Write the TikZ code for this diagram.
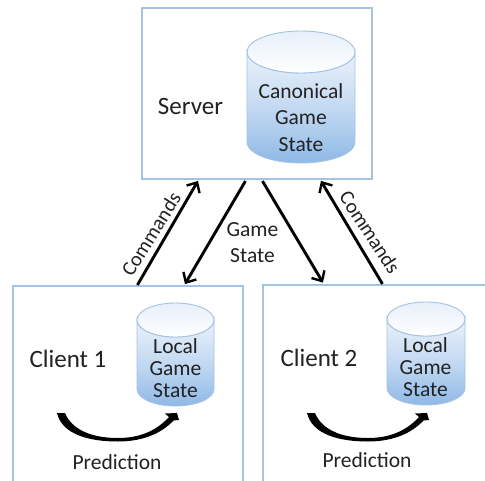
\documentclass[tikz,border=0pt]{standalone}
\usepackage{fontspec}
\setmainfont{Carlito}
\usetikzlibrary{arrows.meta,calc,shadings}
\definecolor{edgeblue}{HTML}{A6C2E2}
\definecolor{dbtop}{HTML}{DCE9F7}
\definecolor{dbmid}{HTML}{C3D9F2}
\definecolor{dbbot}{HTML}{8FB9E6}
\definecolor{ink}{HTML}{222222}
\tikzset{
  panel/.style={draw=edgeblue,line width=1.1pt,fill=white,rectangle,inner sep=0pt},
  link/.style={draw=black,line width=2.9pt,-{Straight Barb[length=8pt,width=15pt,line width=2.4pt]},shorten >=1pt},
  lbl/.style={text=ink,font=\fontsize{21.5}{25}\selectfont,align=center,inner sep=0pt},
  cmdlbl/.style={text=ink,font=\fontsize{20.5}{24}\selectfont,inner sep=0pt},
  biglbl/.style={text=ink,font=\fontsize{25}{30}\selectfont,inner sep=0pt},
}
% #1 name, #2 left, #3 right, #4 top, #5 ry, #6 bottom
\newcommand{\dbcyl}[6]{%
  \pgfmathsetmacro{\cx}{(#2+#3)/2}\pgfmathsetmacro{\rx}{(#3-#2)/2}\pgfmathsetmacro{\cy}{#4+#5}
  \path[draw=edgeblue,line width=.9pt,top color=dbtop!60!white,bottom color=dbbot,middle color=dbmid]
    (#2,\cy) -- (#2,#6-#5) arc[start angle=180,end angle=0,x radius=\rx,y radius=#5] -- (#3,\cy)
    arc[start angle=0,end angle=180,x radius=\rx,y radius=#5] -- cycle;
  \path[draw=edgeblue,line width=.9pt,top color=dbtop!70!white,bottom color=white]
    (\cx,\cy) ellipse[x radius=\rx,y radius=#5];
  \coordinate (#1) at (\cx,\cy);
}
% tapered prediction arrow, #1 = x offset, #2 = y offset
\newcommand{\predarrow}[2]{%
  \fill[black,shift={(#1,#2)}] (57,413) -- (65,413)
    .. controls (72,430) and (92,438) .. (118,438)
    .. controls (141,438) and (157,430) .. (169,417)
    -- (165,413.5) -- (177,413) -- (179,420) -- (173.5,420.5)
    .. controls (160,435) and (140,441.5) .. (118,441.5)
    .. controls (88,441.5) and (62,434) .. (57,413) -- cycle;
}
\begin{document}
\begin{tikzpicture}[x=1pt,y=-1pt]
\useasboundingbox (0,0) rectangle (485,480);
\clip (0,0) rectangle (485,480);
\fill[white] (0,0) rectangle (485,480);
\node[panel,minimum width=230pt,minimum height=171pt] (server) at (257,93.5) {};
\node[panel,minimum width=230pt,minimum height=220pt] (clienta) at (128,396) {};
\node[panel,minimum width=240pt,minimum height=220pt] (clientb) at (383,395) {};

\dbcyl{dbs}{247}{355}{31}{21}{163}
\dbcyl{dba}{137}{214}{303}{17}{406}
\dbcyl{dbb}{387}{465}{302}{17}{405}

\node[lbl] (canon) at (301,117.5) {Canonical\\[1.5pt]Game\\[1.5pt]State};
\node[lbl] (locala) at (175.5,368) {Local\\[-3pt]Game\\[-3pt]State};
\node[lbl] (localb) at (425.5,367) {Local\\[-3pt]Game\\[-3pt]State};

\node[biglbl] (servert) at (190.5,106) {Server};
\node[biglbl] (clientat) at (68,359) {Client 1};
\node[biglbl] (clientbt) at (319,358) {Client 2};
\node[lbl] (preda) at (117,462) {Prediction};
\node[lbl] (predb) at (367,460) {Prediction};
\node[lbl] (gs) at (252.5,243) {Game\\[1pt]State};
\node[cmdlbl,rotate=58] (cmda) at (151,234) {Commands};
\node[cmdlbl,rotate=-57] (cmdb) at (370,232.5) {Commands};

\coordinate (sa) at ($(server.south west)+(57,0.5)$);
\coordinate (sb) at ($(server.south west)+(104,1.5)$);
\coordinate (sc) at ($(server.south west)+(121,1.5)$);
\coordinate (sd) at ($(server.south west)+(179,0.5)$);
\coordinate (ca) at ($(clienta.north west)+(125,-0.5)$);
\coordinate (cb) at ($(clienta.north west)+(172,-0.5)$);
\coordinate (cc) at ($(clientb.north west)+(61,-1)$);
\coordinate (cd) at ($(clientb.north west)+(120,-0.5)$);

\draw[link] (ca) -- (sa);
\draw[link] (sb) -- (cb);
\draw[link] (sc) -- (cc);
\draw[link] (cd) -- (sd);

\predarrow{0}{0}
\predarrow{250}{0}
\end{tikzpicture}
\end{document}
